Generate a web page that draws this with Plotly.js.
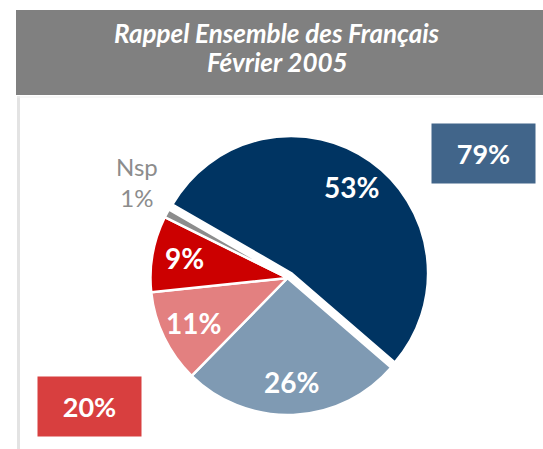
<!DOCTYPE html>
<html>
<head>
<meta charset="utf-8">
<script src="https://cdn.plot.ly/plotly-3.0.1.min.js"></script>
<style>html,body{margin:0;padding:0;background:#fff;}#chart{width:543px;height:449px;}</style>
</head>
<body>
<div id="chart"></div>
<script>
// Data
var categories = ['Très favorable', 'Plutôt favorable', 'Plutôt défavorable', 'Très défavorable', 'Nsp'];
var values = [53, 26, 11, 9, 1];
var sliceColors = ['#003462', '#7f9ab3', '#e38080', '#cc0000', '#8c8c8c'];
var titleLines = ['Rappel Ensemble des Français', 'Février 2005'];
var favorableIdx = [0, 1];
var unfavorableIdx = [2, 3];

var sumOf = function (idx) { return idx.reduce(function (s, i) { return s + values[i]; }, 0); };
var favTotal = sumOf(favorableIdx);
var unfavTotal = sumOf(unfavorableIdx);
var total = values.reduce(function (s, v) { return s + v; }, 0);

var W = 543, H = 449;
var cx = 287.5, cy = 278, r = 137, pull = 0.045, rotation = -60;
var half = r * (1 + pull);
var pieDomain = { x: [(cx - half) / W, (cx + half) / W], y: [(H - cy - half) / H, (H - cy + half) / H] };
var pulls = values.map(function (v, i) { return i === 0 ? pull : 0; });

var slices = {
  type: 'pie',
  labels: categories,
  values: values,
  sort: false,
  direction: 'clockwise',
  rotation: rotation,
  pull: pulls,
  marker: { colors: sliceColors, line: { color: '#ffffff', width: 2.5 } },
  textinfo: 'none',
  hoverinfo: 'none',
  showlegend: false,
  domain: pieDomain
};

// Slice labels placed at each slice's mid-angle (derived from the values)
var labelAnn = [];
var cum = 0;
values.forEach(function (v, i) {
  var mid = (rotation + (cum + v / 2) * 360 / total) * Math.PI / 180;
  cum += v;
  var ox = cx + pulls[i] * r * Math.sin(mid), oy = cy - pulls[i] * r * Math.cos(mid);
  if (categories[i] === 'Nsp') {
    var ro = r * 1.07;
    labelAnn.push({ text: categories[i] + '<br>' + v + '%', xref: 'paper', yref: 'paper',
      x: (ox + ro * Math.sin(mid)) / W, y: 1 - (oy - ro * Math.cos(mid)) / H,
      xanchor: 'right', yanchor: 'bottom', align: 'center', showarrow: false,
      xshift: 2, yshift: -5,
      font: { family: 'Lato', size: 24, color: '#8c8c8c' } });
  } else {
    var ri = r * 0.765;
    labelAnn.push({ text: v + '%', xref: 'paper', yref: 'paper',
      x: (ox + ri * Math.sin(mid)) / W, y: 1 - (oy - ri * Math.cos(mid)) / H,
      xanchor: 'center', yanchor: 'middle', showarrow: false, yshift: 1,
      font: { family: 'Lato', size: 28, color: '#ffffff', weight: 'bold' } });
  }
});

var titleAnn = titleLines.map(function (t, i) {
  return { text: t, xref: 'paper', yref: 'paper', x: 277 / W, y: 1 - (33 + 29 * i) / H,
    xanchor: 'center', yanchor: 'middle', showarrow: false,
    font: { family: 'Lato', size: 26, color: '#ffffff', weight: 'bold', style: 'italic' } };
});

var boxAnn = [
  { text: favTotal + '%', xref: 'paper', yref: 'paper', x: 483.5 / W, y: 1 - 153.5 / H,
    xanchor: 'center', yanchor: 'middle', showarrow: false, width: 103, height: 59, borderpad: 0,
    bgcolor: '#41658a', font: { family: 'Lato', size: 27, color: '#ffffff', weight: 'bold' } },
  { text: unfavTotal + '%', xref: 'paper', yref: 'paper', x: 89.5 / W, y: 1 - 406.5 / H,
    xanchor: 'center', yanchor: 'middle', showarrow: false, width: 103, height: 59, borderpad: 0,
    bgcolor: '#d83f3f', font: { family: 'Lato', size: 27, color: '#ffffff', weight: 'bold' } }
];

var layout = {
  width: W, height: H,
  margin: { l: 0, r: 0, t: 0, b: 0 },
  paper_bgcolor: '#ffffff',
  showlegend: false,
  shapes: [
    { type: 'rect', xref: 'paper', yref: 'paper', x0: 16 / W, x1: 1, y0: 1 - 95 / H, y1: 1 - 10 / H,
      fillcolor: '#808080', line: { width: 0 }, layer: 'below' },
    { type: 'line', xref: 'paper', yref: 'paper', x0: 18.5 / W, x1: 18.5 / W, y0: 0, y1: 1 - 96 / H,
      line: { color: '#e3e3e3', width: 3 }, layer: 'below' },
    { type: 'line', xref: 'paper', yref: 'paper', x0: 17 / W, x1: 1, y0: 1 - 97 / H, y1: 1 - 97 / H,
      line: { color: '#f0f0f0', width: 1 }, layer: 'below' }
  ],
  annotations: titleAnn.concat(labelAnn, boxAnn)
};

Plotly.newPlot('chart', [slices], layout, { displayModeBar: false, staticPlot: true });
</script>
</body>
</html>
